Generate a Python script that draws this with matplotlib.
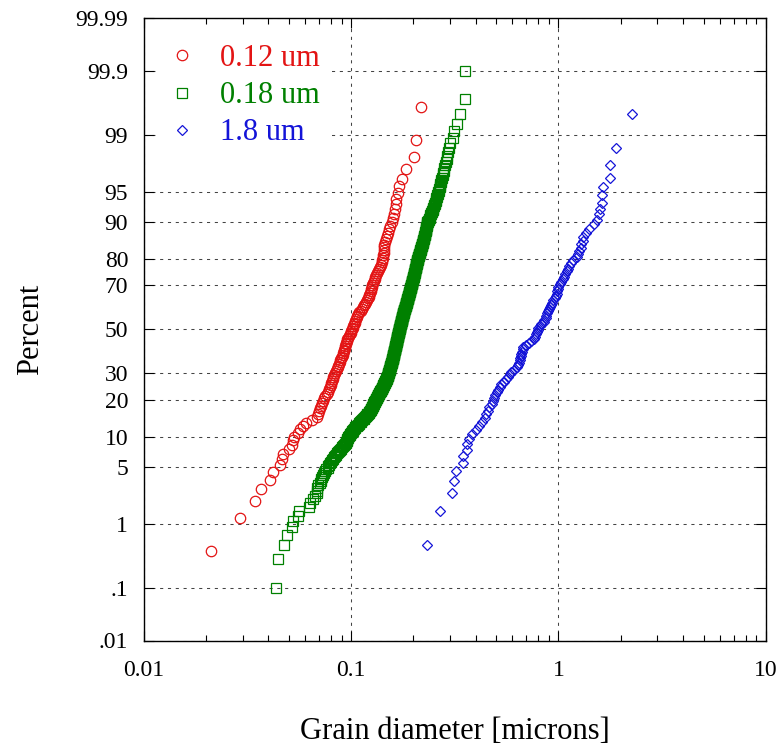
import numpy as np
import matplotlib
matplotlib.use("Agg")
import matplotlib.pyplot as plt
from matplotlib.ticker import FixedLocator, FixedFormatter, NullLocator, NullFormatter, LogLocator
from statistics import NormalDist
from math import erf, sqrt

#data: sorted grain diameters [microns]
d_012 = [0.0212, 0.0292, 0.0345, 0.0369, 0.0408, 0.0422, 0.0456, 0.0466, 0.0471, 0.0500,
         0.0518, 0.0524, 0.0530, 0.0555, 0.0568, 0.0585, 0.0605, 0.0650, 0.0688, 0.0695,
         0.0702, 0.0710, 0.0718, 0.0726, 0.0734, 0.0742, 0.0752, 0.0762, 0.0772, 0.0781,
         0.0789, 0.0797, 0.0804, 0.0811, 0.0817, 0.0823, 0.0831, 0.0839, 0.0847, 0.0855,
         0.0862, 0.0869, 0.0875, 0.0882, 0.0889, 0.0896, 0.0903, 0.0910, 0.0916, 0.0922,
         0.0926, 0.0931, 0.0936, 0.0942, 0.0948, 0.0954, 0.0960, 0.0968, 0.0977, 0.0986,
         0.0995, 0.1003, 0.1012, 0.1020, 0.1028, 0.1035, 0.1043, 0.1050, 0.1056, 0.1063,
         0.1070, 0.1082, 0.1097, 0.1112, 0.1128, 0.1143, 0.1158, 0.1172, 0.1186, 0.1200,
         0.1210, 0.1218, 0.1226, 0.1234, 0.1242, 0.1250, 0.1258, 0.1266, 0.1277, 0.1288,
         0.1300, 0.1312, 0.1324, 0.1336, 0.1348, 0.1360, 0.1373, 0.1388, 0.1403, 0.1418,
         0.1430, 0.1434, 0.1438, 0.1441, 0.1445, 0.1449, 0.1463, 0.1478, 0.1492, 0.1503,
         0.1527, 0.1550, 0.1570, 0.1590, 0.1610, 0.1628, 0.1642, 0.1656, 0.1680, 0.1700,
         0.1765, 0.1835, 0.2020, 0.2065, 0.2183]

d_018 = [0.0436, 0.0446, 0.0477, 0.0494, 0.0521, 0.0527, 0.0556, 0.0563, 0.0630, 0.0637,
         0.0659, 0.0670, 0.0682, 0.0686, 0.0689, 0.0697, 0.0705, 0.0713, 0.0719, 0.0725,
         0.0731, 0.0737, 0.0748, 0.0760, 0.0771, 0.0779, 0.0787, 0.0795, 0.0804, 0.0812,
         0.0822, 0.0831, 0.0841, 0.0850, 0.0860, 0.0870, 0.0880, 0.0889, 0.0899, 0.0909,
         0.0917, 0.0926, 0.0934, 0.0943, 0.0951, 0.0954, 0.0957, 0.0959, 0.0962,
         0.0969, 0.0976, 0.0984, 0.0991, 0.0998, 0.1006, 0.1013, 0.1020, 0.1028, 0.1035,
         0.1042, 0.1050,
         0.1059, 0.1068, 0.1078, 0.1087, 0.1096, 0.1105, 0.1114, 0.1123, 0.1133, 0.1142,
         0.1151, 0.1160,
         0.1168, 0.1176, 0.1184, 0.1192, 0.1200, 0.1208, 0.1216, 0.1224, 0.1232, 0.1240,
         0.1244, 0.1249, 0.1253, 0.1257, 0.1261, 0.1266, 0.1270, 0.1274, 0.1279, 0.1283,
         0.1287, 0.1292, 0.1296, 0.1300, 0.1305, 0.1309,
         0.1314, 0.1318, 0.1323, 0.1328, 0.1333, 0.1337, 0.1342, 0.1347, 0.1352, 0.1356,
         0.1361, 0.1366, 0.1371, 0.1375, 0.1380, 0.1385, 0.1390, 0.1394, 0.1399, 0.1404,
         0.1409, 0.1413, 0.1418,
         0.1422, 0.1426, 0.1430, 0.1434, 0.1438, 0.1442, 0.1446, 0.1450, 0.1454, 0.1458,
         0.1461, 0.1465, 0.1469, 0.1473, 0.1477, 0.1481, 0.1485, 0.1489, 0.1493, 0.1497,
         0.1499, 0.1502, 0.1504, 0.1506, 0.1509, 0.1511, 0.1513, 0.1515, 0.1518, 0.1520,
         0.1522, 0.1525, 0.1527, 0.1529, 0.1532, 0.1534, 0.1536, 0.1539, 0.1541, 0.1543,
         0.1545, 0.1548, 0.1550, 0.1552, 0.1555, 0.1557, 0.1559, 0.1562, 0.1564, 0.1566,
         0.1569, 0.1571, 0.1573, 0.1575, 0.1578, 0.1580,
         0.1582, 0.1584, 0.1585, 0.1587, 0.1589, 0.1591, 0.1593, 0.1594, 0.1596, 0.1598,
         0.1600, 0.1602, 0.1603, 0.1605, 0.1607, 0.1609, 0.1611, 0.1612, 0.1614, 0.1616,
         0.1618, 0.1620, 0.1621, 0.1623, 0.1625, 0.1627, 0.1629, 0.1630, 0.1632, 0.1634,
         0.1636, 0.1638, 0.1639, 0.1641, 0.1643, 0.1645, 0.1647, 0.1648, 0.1650, 0.1652,
         0.1654, 0.1656, 0.1657, 0.1659, 0.1661, 0.1663, 0.1665, 0.1666, 0.1668, 0.1670,
         0.1672, 0.1674, 0.1675, 0.1677, 0.1679, 0.1681, 0.1683, 0.1684, 0.1686, 0.1688,
         0.1690, 0.1692, 0.1693, 0.1695, 0.1697, 0.1699, 0.1701, 0.1702, 0.1704, 0.1706,
         0.1708, 0.1710, 0.1712, 0.1714, 0.1716, 0.1718, 0.1720, 0.1722, 0.1724, 0.1726,
         0.1728, 0.1730, 0.1732, 0.1734, 0.1736, 0.1738, 0.1740, 0.1742, 0.1744, 0.1746,
         0.1748, 0.1750, 0.1752, 0.1754, 0.1756, 0.1758, 0.1760, 0.1762, 0.1764, 0.1766,
         0.1768, 0.1770, 0.1772, 0.1774, 0.1776, 0.1778, 0.1780, 0.1782, 0.1784, 0.1786,
         0.1789, 0.1791, 0.1794, 0.1797, 0.1799, 0.1802, 0.1805, 0.1807, 0.1810, 0.1813,
         0.1815, 0.1818, 0.1821, 0.1823, 0.1826, 0.1828, 0.1831, 0.1834, 0.1836, 0.1839,
         0.1842, 0.1844, 0.1847, 0.1850, 0.1852, 0.1855, 0.1858, 0.1860, 0.1863, 0.1865,
         0.1868, 0.1871, 0.1873, 0.1876, 0.1879, 0.1881, 0.1884, 0.1887, 0.1889, 0.1892,
         0.1894, 0.1897, 0.1900, 0.1902, 0.1905, 0.1908, 0.1910, 0.1913, 0.1916, 0.1918,
         0.1921, 0.1923, 0.1926, 0.1929, 0.1931, 0.1934, 0.1937, 0.1939, 0.1942, 0.1944,
         0.1947, 0.1950, 0.1952,
         0.1955, 0.1958, 0.1961, 0.1963, 0.1966, 0.1969, 0.1972, 0.1975, 0.1978, 0.1981,
         0.1984, 0.1986, 0.1989, 0.1992, 0.1995, 0.1998, 0.2001, 0.2004, 0.2007, 0.2009,
         0.2012, 0.2015, 0.2018, 0.2021, 0.2024, 0.2027, 0.2030, 0.2032, 0.2035, 0.2038,
         0.2041, 0.2044, 0.2047, 0.2050, 0.2053, 0.2055, 0.2058, 0.2061, 0.2064, 0.2067,
         0.2070, 0.2073, 0.2076, 0.2078, 0.2081, 0.2084, 0.2087,
         0.2092, 0.2096, 0.2101, 0.2105, 0.2110, 0.2114, 0.2119, 0.2123, 0.2128, 0.2133,
         0.2137, 0.2142, 0.2146, 0.2151, 0.2155, 0.2160,
         0.2165, 0.2170, 0.2175, 0.2180, 0.2185, 0.2190, 0.2195, 0.2200, 0.2205, 0.2210,
         0.2215, 0.2220, 0.2225, 0.2230, 0.2235,
         0.2240, 0.2245, 0.2249, 0.2254, 0.2259, 0.2264, 0.2268, 0.2273, 0.2278, 0.2283,
         0.2287, 0.2292, 0.2297, 0.2302, 0.2306, 0.2311, 0.2316, 0.2321, 0.2325, 0.2330,
         0.2335,
         0.2347, 0.2358, 0.2370, 0.2381, 0.2393, 0.2404, 0.2416, 0.2428, 0.2439, 0.2451,
         0.2462, 0.2474, 0.2485, 0.2497,
         0.2509, 0.2520, 0.2532, 0.2543, 0.2555, 0.2567, 0.2578, 0.2590, 0.2601, 0.2613,
         0.2627, 0.2642, 0.2656, 0.2671, 0.2685, 0.2699, 0.2714, 0.2728,
         0.2747, 0.2766, 0.2784, 0.2803, 0.2822,
         0.2845, 0.2868, 0.2891, 0.2914,
         0.2940, 0.2970, 0.3010, 0.3085, 0.3126, 0.3226, 0.3370, 0.3560, 0.3560]

d_18 = [0.233, 0.268, 0.308, 0.312, 0.322, 0.346, 0.348, 0.362, 0.364, 0.372,
        0.385, 0.400, 0.416, 0.430, 0.442, 0.447, 0.455, 0.465, 0.478, 0.483,
        0.489, 0.497, 0.506, 0.513, 0.522, 0.531, 0.546, 0.561, 0.574, 0.583,
        0.593, 0.610, 0.631, 0.638, 0.645, 0.652, 0.656, 0.660, 0.663, 0.667,
        0.671, 0.678, 0.697, 0.721, 0.741, 0.758, 0.770, 0.783, 0.792, 0.796,
        0.801, 0.814, 0.828, 0.847, 0.856, 0.866, 0.875, 0.885, 0.895, 0.905,
        0.915, 0.925, 0.935, 0.946, 0.962, 0.973, 0.983, 0.989, 0.994, 1.000,
        1.017, 1.034, 1.051, 1.063, 1.081, 1.099, 1.117, 1.130, 1.149, 1.181,
        1.228, 1.242, 1.256, 1.277, 1.291, 1.306, 1.320, 1.350, 1.396, 1.475,
        1.534, 1.567, 1.594, 1.612, 1.625, 1.630, 1.762, 1.762, 1.883, 2.250]

labels = ["0.12 um", "0.18 um", "1.8 um"]
colors = ["#e31414", "#008000", "#1414d8"]
markers = ["o", "s", "D"]
msizes = [7.5, 7.8, 5.3]

y_ticks = [0.01, 0.1, 1, 5, 10, 20, 30, 50, 70, 80, 90, 95, 99, 99.9, 99.99]
y_ticklabels = [".01", ".1", "1", "5", "10", "20", "30", "50", "70", "80", "90", "95", "99", "99.9", "99.99"]
x_ticks = [0.01, 0.1, 1, 10]
x_ticklabels = ["0.01", "0.1", "1", "10"]


#normal probability scale for the percent axis
_nd = NormalDist()
def probit(p):
    p = np.clip(np.asarray(p, dtype=float) / 100.0, 1e-9, 1 - 1e-9)
    return np.vectorize(_nd.inv_cdf, otypes=[float])(p)

def inv_probit(z):
    z = np.asarray(z, dtype=float)
    return np.vectorize(lambda v: 50.0 * (1 + erf(v / sqrt(2))), otypes=[float])(z)


def plot_pos(d):
    # percent rank of each sorted grain
    n = len(d)
    return (np.arange(1, n + 1) - 0.5) / n * 100.0


plt.rcParams["font.family"] = ["Liberation Serif", "DejaVu Serif"]

fig = plt.figure(figsize=(7.8, 7.5), dpi=100)
ax = fig.add_axes([0.184, 0.146, 0.798, 0.830])

ax.set_xscale("log")
ax.set_yscale("function", functions=(probit, inv_probit))

for d, lab, c, m, ms in zip([d_012, d_018, d_18], labels, colors, markers, msizes):
    ax.plot(d, plot_pos(d), linestyle="none", marker=m, ms=ms, mfc="none",
            mec=c, mew=0.9, color=c, label=lab, zorder=3)

ax.set_xlim(0.01, 10)
ax.set_ylim(0.01, 99.99)

ax.yaxis.set_major_locator(FixedLocator(y_ticks))
ax.yaxis.set_major_formatter(FixedFormatter(y_ticklabels))
ax.yaxis.set_minor_locator(NullLocator())
ax.xaxis.set_major_locator(FixedLocator(x_ticks))
ax.xaxis.set_major_formatter(FixedFormatter(x_ticklabels))
ax.xaxis.set_minor_locator(LogLocator(base=10, subs=np.arange(2, 10)))
ax.xaxis.set_minor_formatter(NullFormatter())

ax.tick_params(which="both", direction="in", top=True, right=True, width=0.8, colors="black")
ax.tick_params(which="major", length=7, labelsize=17)
ax.tick_params(which="minor", length=4)
ax.tick_params(axis="x", pad=14)
ax.tick_params(axis="y", pad=11)

for s in ax.spines.values():
    s.set_linewidth(1.0)

ax.grid(True, which="major", color="#444444", linestyle=(0, (3, 4.5)), linewidth=0.75, zorder=1)
ax.set_axisbelow(True)

ax.set_xlabel("Grain diameter [microns]", fontsize=22, labelpad=26)
ax.set_ylabel("Percent", fontsize=22, labelpad=22)

leg = ax.legend(loc="upper left", fontsize=22, frameon=True, fancybox=False,
                edgecolor="none", facecolor="white", framealpha=1.0,
                handlelength=0.8, handletextpad=0.85, borderpad=0.4,
                borderaxespad=0.45, labelspacing=0.27, labelcolor="linecolor")
leg.get_frame().set_linewidth(0)

plt.savefig("out.png", dpi=100)
